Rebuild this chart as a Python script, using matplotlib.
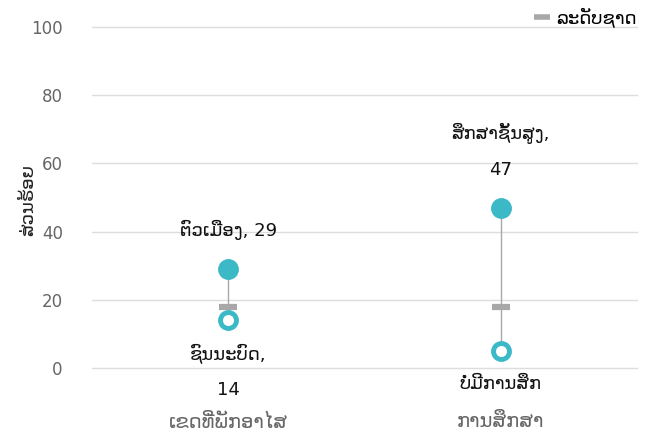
import matplotlib
matplotlib.use("Agg")
import matplotlib.pyplot as plt
from matplotlib.lines import Line2D

plt.rcParams['font.family'] = ['DejaVu Sans']

categories = ["ເຂດທີ່ພັກອາໄສ", "ການສຶກສາ"]
high_values = [29, 47]
high_labels = ["ຕົວເມືອງ, 29", "ສຶກສາຊັ້ນສູງ,\n47"]
low_values = [14, 5]
low_labels = ["ຊົນນະບົດ,\n14", "ບໍ່ມີການສຶກ\nສາ, 5"]
national = [18, 18]
yticks = [0, 20, 40, 60, 80, 100]
ylabel = "ສ່ວນຮ້ອຍ"
legend_label = "ລະດັບຊາດ"

teal = "#3bb9c7"
gray_line = "#a8a8a8"

fig = plt.figure(figsize=(6.6, 4.33), dpi=100)
ax = fig.add_axes([92/660, 1-368/433, 545/660, (368-27)/433])
ax.set_xlim(-0.5, 1.5)
ax.set_ylim(0, 100)

for i in range(len(categories)):
    ax.plot([i, i], [low_values[i], high_values[i]], color=gray_line, lw=1, zorder=2)
    ax.plot(i, national[i], marker='_', markersize=13, markeredgewidth=4.5,
            color=gray_line, zorder=3, linestyle='none')
    ax.plot(i, high_values[i], 'o', markersize=14, color=teal, zorder=4)
    ax.plot(i, low_values[i], 'o', markersize=11.5, markerfacecolor='white',
            markeredgecolor=teal, markeredgewidth=3.5, zorder=4)
    ax.annotate(high_labels[i], (i, high_values[i]), xytext=(0, 21),
                textcoords='offset points', ha='center', va='bottom',
                fontsize=13, color='#111111', linespacing=2.2)
    ax.annotate(low_labels[i], (i, low_values[i]), xytext=(0, -17),
                textcoords='offset points', ha='center', va='top',
                fontsize=13, color='#111111', linespacing=2.2, zorder=1,
                annotation_clip=False)

ax.set_yticks(yticks)
ax.set_xticks(range(len(categories)))
ax.set_xticklabels(categories)
ax.tick_params(axis='y', length=0, pad=21, labelsize=12, labelcolor='#666666')
ax.tick_params(axis='x', length=0, pad=32, labelsize=14, labelcolor='#666666')
ax.grid(axis='y', color='#dddddd', lw=1)
ax.set_axisbelow(True)
for g in ax.get_ygridlines():
    g.set_clip_on(False)
for t in ax.get_xticklabels():
    t.set_bbox(dict(facecolor='white', edgecolor='none', pad=2))
ax.xaxis.set_zorder(6)
for s in ax.spines.values():
    s.set_visible(False)

fig.text(28/660, 1-200/433, ylabel, rotation=90, ha='center', va='center',
         fontsize=13, color='#222222')

handle = Line2D([], [], marker='_', markersize=11, markeredgewidth=4,
                color=gray_line, linestyle='none')
fig.legend([handle], [legend_label], loc='upper right', bbox_to_anchor=(0.99, 1.02),
           frameon=False, fontsize=13, handletextpad=0.3, handlelength=1.0)

fig.savefig("out.png", dpi=100)
